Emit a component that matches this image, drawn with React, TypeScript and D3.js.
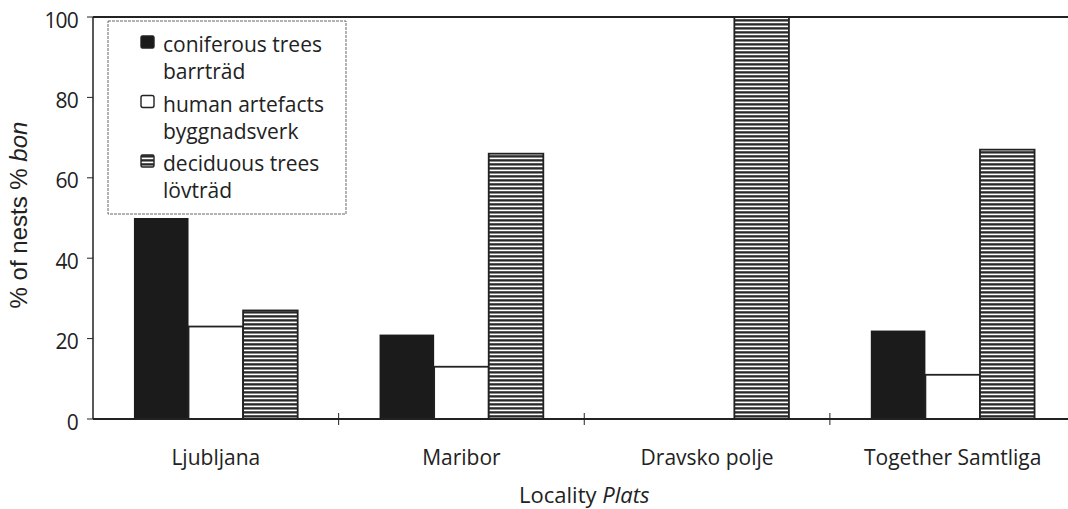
import React from "react";
import * as d3 from "d3";

const categories = ["Ljubljana", "Maribor", "Dravsko polje", "Together Samtliga"];
const seriesKeys = ["coniferous", "human", "deciduous"];
const coniferous = [50, 21, 0, 22];
const human = [23, 13, 0, 11];
const deciduous = [27, 66, 100, 67];
const yTicks = [0, 20, 40, 60, 80, 100];
const legendLines = [
  ["coniferous trees", "barrträd"],
  ["human artefacts", "byggnadsverk"],
  ["deciduous trees", "lövträd"],
];

const W = 1068;
const H = 509;
const left = 93;
const right = 1075.5;
const top = 17;
const bottom = 419;

export default function App() {
  const values: Record<string, number[]> = { coniferous, human, deciduous };
  const x0 = d3.scaleBand<string>().domain(categories).range([left, right]).padding(0);
  const x1 = d3
    .scaleBand<string>()
    .domain(seriesKeys)
    .range([0, x0.bandwidth()])
    .paddingInner(0)
    .paddingOuter(0.75);
  const y = d3.scaleLinear().domain([0, 100]).range([bottom, top]);

  const fillFor = (k: string) =>
    k === "coniferous" ? "#1b1b1b" : k === "human" ? "#ffffff" : "url(#hstripe)";

  const font = "'Open Sans', sans-serif";
  const boundaries = categories.slice(1).map((c) => x0(c) as number);

  return (
    <svg
      width={W}
      height={H}
      style={{ position: "absolute", left: 0, top: 0, background: "#fff" }}
    >
      <defs>
        <pattern id="hstripe" width="6" height="4" patternUnits="userSpaceOnUse">
          <rect width="6" height="4" fill="#ffffff" />
          <rect y="0" width="6" height="1" fill="#2a2a2a" />
          <rect y="1" width="6" height="1" fill="#888" />
          <rect y="3" width="6" height="1" fill="#555" />
        </pattern>
      </defs>

      {/* bars */}
      {categories.map((c, i) => (
        <g key={c} transform={`translate(${x0(c)},0)`}>
          {seriesKeys.map((k) => {
            const v = values[k][i];
            if (v <= 0) return null;
            return (
              <rect
                key={k}
                x={x1(k)}
                y={y(v)}
                width={x1.bandwidth()}
                height={y(0) - y(v)}
                fill={fillFor(k)}
                stroke="#222"
                strokeWidth={k === "coniferous" ? 0 : 1.8}
              />
            );
          })}
        </g>
      ))}

      {/* frame / axes */}
      <line x1={left} x2={W} y1={top} y2={top} stroke="#222" strokeWidth={2} />
      <line x1={left} x2={left} y1={top} y2={bottom} stroke="#222" strokeWidth={1.5} />
      <line x1={left} x2={W} y1={bottom} y2={bottom} stroke="#222" strokeWidth={2} />
      {boundaries.map((bx, i) => (
        <line key={i} x1={bx} x2={bx} y1={bottom - 6} y2={bottom + 6} stroke="#222" strokeWidth={1} />
      ))}

      {/* y ticks */}
      {yTicks.map((t) => (
        <g key={t}>
          <line x1={left - 6} x2={left} y1={y(t)} y2={y(t)} stroke="#222" strokeWidth={1} />
          <text
            x={78}
            y={y(t)}
            dy="0.5em"
            textAnchor="end"
            fontFamily={font}
            fontSize={21}
            letterSpacing={-0.8}
            fill="#222"
          >
            {t}
          </text>
        </g>
      ))}

      {/* category labels */}
      {categories.map((c) => (
        <text
          key={c}
          x={(x0(c) as number) + x0.bandwidth() / 2}
          y={465}
          textAnchor="middle"
          fontFamily={font}
          fontSize={21}
          fill="#222"
        >
          {c}
        </text>
      ))}

      {/* axis titles */}
      <text
        x={(left + right) / 2}
        y={503}
        textAnchor="middle"
        fontFamily={font}
        fontSize={22}
        fill="#222"
      >
        Locality <tspan fontStyle="italic">Plats</tspan>
      </text>
      <text
        transform={`translate(27,${215}) rotate(-90)`}
        textAnchor="middle"
        fontFamily="'Liberation Sans', Arial, sans-serif"
        fontSize={24}
        fill="#222"
      >
        % of nests % <tspan fontStyle="italic">bon</tspan>
      </text>

      {/* legend */}
      <rect
        x={108}
        y={21}
        width={238}
        height={193}
        fill="#fff"
        stroke="#666"
        strokeWidth={1}
        strokeDasharray="3 1"
      />
      {seriesKeys.map((k, i) => {
        const base = 52 + i * 59.5;
        return (
          <g key={k}>
            <rect
              x={141}
              y={base - 16}
              width={13}
              height={12}
              rx={k === "human" ? 2 : 1.5}
              fill={fillFor(k)}
              stroke="#222"
              strokeWidth={1.4}
            />
            <text x={163} y={base} fontFamily={font} fontSize={21} fill="#222">
              {legendLines[i][0]}
            </text>
            <text x={163} y={base + 27} fontFamily={font} fontSize={21} fill="#222">
              {legendLines[i][1]}
            </text>
          </g>
        );
      })}
    </svg>
  );
}
